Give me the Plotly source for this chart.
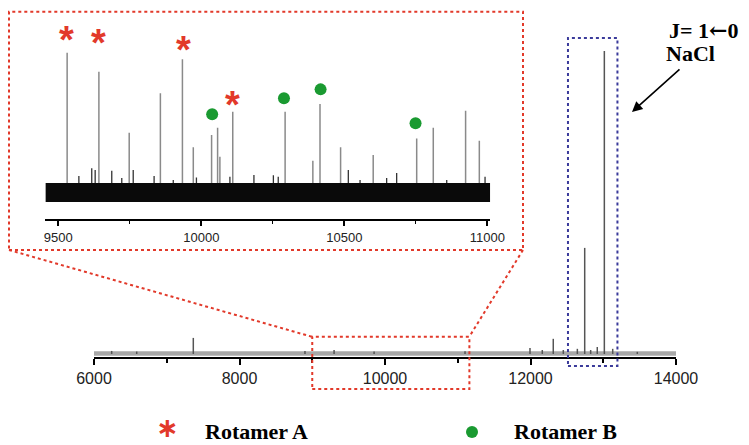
import plotly.graph_objects as go

# the page is drawn with an 8 px body margin, so the figure is 8 px smaller
OFF = 8
W, H = 749 - OFF, 445 - OFF

# ---------------- data ----------------
# Main spectrum: frequency (MHz) and relative intensity
main_freq = [6243, 6587, 7365, 8900, 9300, 9850, 11100, 11993, 12162, 12313,
             12451, 12644, 12745, 12827, 12918, 13015, 13130, 13468]
main_int = [1.0, 0.8, 5.3, 1.0, 1.3, 0.8, 0.9, 2.0, 1.3, 5.0,
            1.3, 1.7, 35.0, 1.3, 2.3, 100.0, 1.7, 0.7]
main_noise = [-0.6, 0.9]
main_span = [6000, 14000]
main_ticks = [6000, 8000, 10000, 12000, 14000]

# Inset (9455-11010 MHz): strong lines
inset_freq = [9531, 9642, 9748, 9857, 9934, 9972, 10036, 10057, 10065, 10110,
              10293, 10390, 10415, 10487, 10601, 10753, 10811, 10924, 10972]
inset_int = [100.0, 86.4, 42.6, 70.9, 95.3, 32.1, 40.9, 46.2, 25.3, 57.6,
             57.6, 22.5, 63.2, 32.1, 26.6, 38.5, 46.2, 58.4, 36.8]
# Inset: weak lines just above the noise
inset_weak_freq = [9572, 9617, 9629, 9687, 9722, 9762, 9835, 9902, 9983, 10100,
                   10184, 10252, 10269, 10514, 10555, 10648, 10683, 10858, 10992]
inset_weak_int = [11.5, 17.0, 15.8, 15.3, 10.0, 15.8, 11.5, 8.6, 10.5, 11.0,
                  12.2, 12.0, 11.0, 15.8, 8.6, 10.0, 13.6, 8.6, 11.0]
inset_noise = [-7.2, 6.5]
inset_span = [9455, 11010]
inset_ticks = [9500, 10000, 10500, 11000]

# Assignments (label positions)
rotA_freq = [9529, 9642, 9937, 10110]
rotA_level = [115.8, 113.2, 108.6, 69.1]
rotB_freq = [10038, 10289, 10417, 10749]
rotB_level = [55.8, 67.3, 73.7, 49.3]

# Zoom windows on the main axis
zoom_window = [9000, 11160]
nacl_window = [12515, 13195]

RED = "#e2392a"
GREEN = "#1a9a31"
BLUE = "#3b3b9b"


def px(x):
    return (x - OFF) / W


def py(y):
    return 1 - (y - OFF) / H


def sticks(xs, ys):
    X, Y = [], []
    for x, y in zip(xs, ys):
        X += [x, x, None]
        Y += [0, y, None]
    return X, Y


fig = go.Figure()

# main spectrum noise band + lines
fig.add_trace(go.Scatter(
    x=[main_span[0], main_span[1], main_span[1], main_span[0], main_span[0]],
    y=[main_noise[0], main_noise[0], main_noise[1], main_noise[1], main_noise[0]],
    fill="toself", fillcolor="#a8a8a8", line=dict(width=0), mode="lines",
    xaxis="x", yaxis="y", hoverinfo="skip"))
mx, my = sticks(main_freq, main_int)
fig.add_trace(go.Scatter(x=mx, y=my, mode="lines",
                         line=dict(color="#555555", width=1.5),
                         xaxis="x", yaxis="y"))

# inset
ix, iy = sticks(inset_freq, inset_int)
fig.add_trace(go.Scatter(x=ix, y=iy, mode="lines",
                         line=dict(color="#8a8a8a", width=1.5),
                         xaxis="x2", yaxis="y2"))
wx, wy = sticks(inset_weak_freq, inset_weak_int)
fig.add_trace(go.Scatter(x=wx, y=wy, mode="lines",
                         line=dict(color="#333333", width=1.3),
                         xaxis="x2", yaxis="y2"))
fig.add_trace(go.Scatter(
    x=[inset_span[0], inset_span[1], inset_span[1], inset_span[0], inset_span[0]],
    y=[inset_noise[0], inset_noise[0], inset_noise[1], inset_noise[1], inset_noise[0]],
    fill="toself", fillcolor="#0a0a0a", line=dict(width=0), mode="lines",
    xaxis="x2", yaxis="y2", hoverinfo="skip"))

# Rotamer B markers
fig.add_trace(go.Scatter(x=rotB_freq, y=rotB_level, mode="markers",
                         marker=dict(color=GREEN, size=12, line=dict(width=0)),
                         xaxis="x2", yaxis="y2"))

axis_common = dict(showline=True, linecolor="black", ticks="outside", tickcolor="black",
                   showgrid=False, zeroline=False, automargin=False, tickformat="d")

fig.update_layout(
    template="none",
    width=W, height=H, margin=dict(l=0, r=0, t=0, b=0, pad=0), autosize=False,
    paper_bgcolor="white", plot_bgcolor="rgba(0,0,0,0)", showlegend=False,
    xaxis=dict(domain=[px(94), px(676)], range=main_span, anchor="y",
               tickvals=main_ticks, linewidth=2, ticklen=6, tickwidth=2,
               minor=dict(ticks="outside", ticklen=4, tickwidth=1.5, dtick=1000, tick0=6000,
                          tickcolor="black"),
               tickfont=dict(family="Liberation Sans", size=16, color="#222222"),
               **axis_common),
    yaxis=dict(domain=[py(357), py(30)], range=[-1.0, 106.9], visible=False, anchor="x"),
    xaxis2=dict(domain=[px(45.4), px(490.2)], range=inset_span, anchor="y2",
                tickvals=inset_ticks, linewidth=1.5, ticklen=5, tickwidth=1.5,
                minor=dict(ticks="outside", ticklen=3, tickwidth=1.2, dtick=250, tick0=9500,
                           tickcolor="black"),
                tickfont=dict(family="Liberation Sans", size=13, color="#222222"),
                **axis_common),
    yaxis2=dict(domain=[py(219.3), py(15)], range=[-19.6, 127.1], visible=False, anchor="x2"),
)

dot = dict(color=RED, width=2, dash="dot")
shapes = [
    # inset frame
    dict(type="rect", xref="paper", yref="paper", x0=px(9), x1=px(523), y0=py(250), y1=py(11.7),
         line=dot),
    # zoom window on the main axis
    dict(type="rect", xref="x", yref="paper", x0=zoom_window[0], x1=zoom_window[1],
         y0=py(389), y1=py(336.7), line=dot),
    # connectors
    dict(type="line", xref="paper", yref="paper", x0=px(9), y0=py(250), x1=px(311.7), y1=py(336.7),
         line=dot),
    dict(type="line", xref="paper", yref="paper", x0=px(523), y0=py(250), x1=px(469.3), y1=py(336.7),
         line=dot),
    # NaCl window
    dict(type="rect", xref="x", yref="paper", x0=nacl_window[0], x1=nacl_window[1],
         y0=py(366), y1=py(38), line=dict(color=BLUE, width=2, dash="dot")),
    # legend dot
    dict(type="circle", xref="paper", yref="paper", x0=px(466), x1=px(478), y0=py(438), y1=py(426),
         fillcolor=GREEN, line=dict(width=0)),
]
fig.update_layout(shapes=shapes)

star_font = dict(family="Liberation Sans", size=38, color=RED, weight="bold")
serif = dict(family="Liberation Serif", size=22, color="black", weight="bold")
anns = []
# Rotamer A stars on the inset axes (the '*' glyph sits high in its box -> shift down)
for f, lv in zip(rotA_freq, rotA_level):
    anns.append(dict(x=f, y=lv, xref="x2", yref="y2", text="*", font=star_font,
                     showarrow=False, xanchor="center", yanchor="middle", yshift=-9))
paper_anns = [
    dict(x=px(703), y=py(30),
         text="J= 1<span style='font-family:DejaVu Serif'>\u2190</span>0",
         font=dict(family="Liberation Serif", size=22, color="black", weight="bold")),
    dict(x=px(690), y=py(53), text="NaCl", font=dict(family="Liberation Serif", size=22,
                                                      color="black", weight="bold")),
    dict(x=px(632), y=py(112), ax=49, ay=-44, text="", showarrow=True, arrowhead=2,
         arrowsize=1.3, arrowwidth=1.6, arrowcolor="black"),
    dict(x=px(167), y=py(427), text="\u2217",
         font=dict(family="DejaVu Sans", size=27, color=RED, weight="bold")),
    dict(x=px(256.5), y=py(431), text="Rotamer A", font=serif),
    dict(x=px(565), y=py(431), text="Rotamer B", font=serif),
]
for a in paper_anns:
    a.setdefault("showarrow", False)
    a.update(xref="paper", yref="paper", xanchor="center", yanchor="middle")
anns += paper_anns
fig.update_layout(annotations=anns)

fig.write_html("out.html")
